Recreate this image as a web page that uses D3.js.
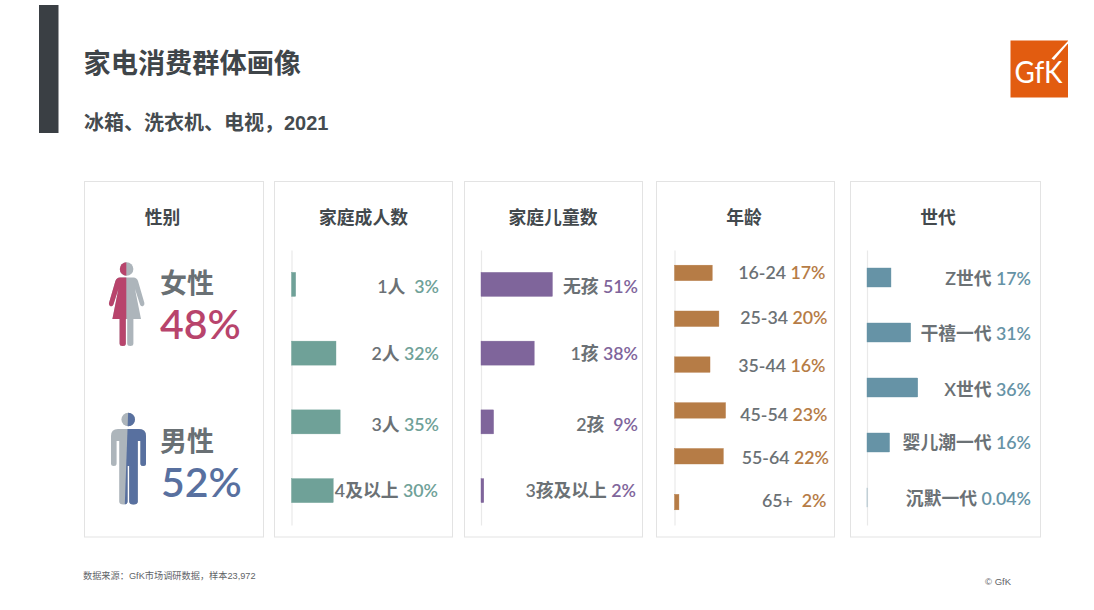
<!DOCTYPE html>
<html><head><meta charset="utf-8">
<script src="https://cdn.jsdelivr.net/npm/d3@7/dist/d3.min.js"></script>
<style>
html,body{margin:0;padding:0;background:#fff}
svg{display:block}
text{font-family:Lato,"Noto Sans CJK SC",sans-serif}
.cjk{font-family:"Liberation Sans","Noto Sans CJK SC",sans-serif}
</style></head><body>
<svg id="c" width="1094" height="610"></svg>
<script>
const titleText = "家电消费群体画像";
const subtitleText = "冰箱、洗衣机、电视，2021";
const sourceText = "数据来源：GfK市场调研数据，样本23,972";
const copyrightText = "© GfK";

const genderCategories = ["女性","男性"];
const genderValues = [48,52];

const adultCategories = ["1人","2人","3人","4及以上"];
const adultValues = [3,32,35,30];
const childCategories = ["无孩","1孩","2孩","3孩及以上"];
const childValues = [51,38,9,2];
const ageCategories = ["16-24","25-34","35-44","45-54","55-64","65+"];
const ageValues = [17,20,16,23,22,2];
const genCategories = ["Z世代","干禧一代","X世代","婴儿潮一代","沉默一代"];
const genValues = [17,31,36,16,0.04];

const svg = d3.select("#c");
const cardTop = 181, cardBottom = 537, axisTop = 250, axisBottom = 525;

// background band and titles
svg.append("rect").attr("x",39).attr("y",5).attr("width",19.5).attr("height",128).attr("fill","#3a3f44");
svg.append("text").attr("class","cjk").attr("x",83.5).attr("y",73).attr("font-size",27.2).attr("font-weight",700).attr("fill","#3f4549").text(titleText);
svg.append("text").attr("class","cjk").attr("x",84).attr("y",130).attr("font-size",20).attr("font-weight",700).attr("fill","#454b4f").text(subtitleText);
svg.append("text").attr("class","cjk").attr("x",83).attr("y",579).attr("font-size",9.2).attr("fill","#5f6468").text(sourceText);
svg.append("text").attr("class","cjk").attr("x",985).attr("y",585).attr("font-size",9.5).attr("fill","#5f6468").text(copyrightText);

// logo
const logo = svg.append("g");
logo.append("rect").attr("x",1010.5).attr("y",40.5).attr("width",57.5).attr("height",57).attr("fill","#e25c10");
logo.append("path").attr("d","M1068 41 L1068 43.5 L1054 60 L1051.5 58.5 Z").attr("fill","#fff");
logo.append("text").attr("x",1014.5).attr("y",82.5).attr("font-size",31).attr("font-weight",400).attr("fill","#fff").attr("textLength",48).attr("lengthAdjust","spacingAndGlyphs").text("GfK");

// cards
const cards = [
 {x0:84,x1:263,title:"性别",tx:162.5},
 {x0:274,x1:452,title:"家庭成人数",tx:363.5},
 {x0:464,x1:642,title:"家庭儿童数",tx:553},
 {x0:656,x1:834,title:"年龄",tx:744},
 {x0:850,x1:1040,title:"世代",tx:938}
];
cards.forEach(c=>{
  svg.append("rect").attr("x",c.x0+.5).attr("y",cardTop+.5).attr("width",c.x1-c.x0).attr("height",cardBottom-cardTop-.5)
    .attr("fill","#fff").attr("stroke","#e3e3e3");
  svg.append("text").attr("class","cjk").attr("x",c.tx).attr("y",224).attr("text-anchor","middle")
    .attr("font-size",17.8).attr("font-weight",700).attr("fill","#43494d").text(c.title);
});

// bar panels
function panel(o){
  const y = d3.scaleBand().domain(o.categories).range([axisTop,axisBottom]);
  const x = d3.scaleLinear().domain([0,100]).range([o.x,o.x+o.pxPer100]);
  const g = svg.append("g");
  const axis = g.append("g").attr("transform",`translate(${o.x},0)`)
    .call(d3.axisLeft(y).tickSize(0).tickFormat(""));
  axis.select(".domain").attr("stroke","#e9e9e9").attr("stroke-width",1.2);
  g.selectAll("rect.bar").data(o.categories).join("rect").attr("class","bar")
    .attr("x",x(0)).attr("width",(d,i)=>x(o.values[i])-x(0))
    .attr("y",d=>y(d)+y.bandwidth()/2-o.barH/2).attr("height",o.barH)
    .attr("fill",o.color).attr("stroke",o.color).attr("stroke-width",.4);
  const t = g.selectAll("text.lab").data(o.categories).join("text").attr("class","lab")
    .attr("x",(d,i)=>o.right+(o.dx?o.dx[i]:0))
    .attr("y",(d,i)=>y(d)+y.bandwidth()/2+6+(o.dy?o.dy[i]:0))
    .attr("text-anchor","end").attr("font-size",17.8);
  t.append("tspan").attr("fill","#6b7175").attr("font-weight",600).text(d=>d+"\u00a0");
  t.append("tspan").attr("fill",o.color).attr("font-weight",600)
    .text((d,i)=>(o.values[i]<10&&o.values[i]>=1&&d.length<=3?"\u00a0":"")+o.values[i]+"%");
}
panel({categories:adultCategories,values:adultValues,x:291.5,pxPer100:139,barH:24,color:"#6fa198",right:439,
  dx:[0,0,0,-1],dy:[3,1,3,0]});
panel({categories:childCategories,values:childValues,x:481,pxPer100:140,barH:24,color:"#7f659b",right:638,
  dx:[0,0,0,-2],dy:[3,1,3,0]});
panel({categories:ageCategories,values:ageValues,x:674.5,pxPer100:222,barH:15.5,color:"#b67c46",right:827,
  dx:[-1.5,.5,-1.5,.5,2,-.5],dy:[0,-1,1,5,2,-1]});
panel({categories:genCategories,values:genValues,x:867,pxPer100:141,barH:19,color:"#6693a6",right:1031,dy:[1,1,2,0,1.5]});

// gender figures
const grey="#adb5bb", pink="#b8446c", blue="#58709f";
const defs = svg.append("defs");
defs.append("clipPath").attr("id","fL").append("rect").attr("x",100).attr("y",255).attr("width",26.3).attr("height",100);
defs.append("clipPath").attr("id","mR").append("path").attr("d","M128.4 405 L160 405 L160 510 L124.6 510 Z");

const womanD = "M120 277.5 L133.5 277.5 Q136.8 277.5 138 281 L144.4 303 Q144.8 305.5 142.8 306.2 Q140.8 306.8 140 304.6 L135 289 L141 319 L133.4 319 L133.4 343.5 Q133.4 346 130.3 346 Q127.2 346 127.2 343.5 L127.2 319 L125.8 319 L125.8 343.5 Q125.8 346 122.7 346 Q119.6 346 119.6 343.5 L119.6 319 L112.4 319 L118.4 289 L113.4 304.6 Q112.6 306.8 110.6 306.2 Q108.6 305.5 109 303 L115.4 281 Q116.6 277.5 120 277.5 Z";
const manD = "M118 429 L139 429 Q146 429 146 436 L146 463.5 Q146 466 143.2 466 Q140.4 466 140.4 463.5 L140.4 441 L137.8 441 L137.8 501.5 Q137.8 504.5 133.5 504.5 Q129.2 504.5 129.2 501.5 L129.2 466 L127.6 466 L127.6 501.5 Q127.6 504.5 123.4 504.5 Q119.2 504.5 119.2 501.5 L119.2 441 L116.6 441 L116.6 463.5 Q116.6 466 113.8 466 Q111 466 111 463.5 L111 436 Q111 429 118 429 Z";

function figure(cx,cy,r,d,clipId,accentColor,baseColor){
  const g = svg.append("g");
  const draw = (sel,color)=>{
    sel.append("circle").attr("cx",cx).attr("cy",cy).attr("r",r).attr("fill",color);
    sel.append("path").attr("d",d).attr("fill",color);
  };
  draw(g,baseColor);
  draw(g.append("g").attr("clip-path",`url(#${clipId})`),accentColor);
}
figure(126.6,269,6.8,womanD,"fL",pink,grey);
figure(128.2,419.5,6.8,manD,"mR",blue,grey);

const genderRows = [
 {labelY:293,valueY:339,color:pink,x:160},
 {labelY:451,valueY:497,color:blue,x:161}
];
genderCategories.forEach((c,i)=>{
  const r = genderRows[i];
  svg.append("text").attr("x",160).attr("y",r.labelY).attr("font-size",27).attr("font-weight",600).attr("fill","#697074").text(c);
  svg.append("text").attr("x",r.x).attr("y",r.valueY).attr("font-size",41).attr("font-weight",600).attr("fill",r.color).text(genderValues[i]+"%");
});
</script>
</body></html>
